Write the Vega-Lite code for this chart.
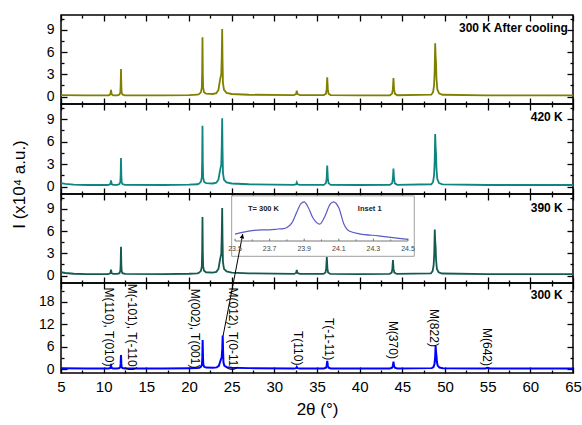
{
  "$schema": "https://vega.github.io/schema/vega-lite/v6.json",
  "background": "white",
  "padding": {"left": 9, "top": 13, "right": 0, "bottom": 0},
  "spacing": 0,
  "bounds": "flush",
  "config": {
    "view": {"stroke": "#000", "strokeWidth": 1.5},
    "axis": {"domain": false, "grid": false, "tickColor": "#000", "tickWidth": 1.3, "labelFont": "Liberation Sans", "labelColor": "#000", "labelFontSize": 14, "titleFont": "Liberation Sans", "titleColor": "#000", "titleFontWeight": "normal"},
    "text": {"font": "Liberation Sans"}
  },
  "vconcat": [
    {
      "width": 512, "height": 89,
      "resolve": {"axis": {"x": "independent", "y": "independent"}},
      "layer": [
        {
          "data": {"values": [
            {"x":5,"y":0.2},{"x":8,"y":0.15},{"x":10.4,"y":0.15},
            {"x":10.6,"y":0.17},{"x":10.78,"y":0.3},{"x":10.86,"y":0.9},{"x":10.94,"y":0.3},{"x":11.1,"y":0.17},
            {"x":11.6,"y":0.17},{"x":11.85,"y":0.28},{"x":11.95,"y":0.55},{"x":11.99,"y":1.5},{"x":12.03,"y":3.7},{"x":12.07,"y":1.5},{"x":12.11,"y":0.55},{"x":12.2,"y":0.28},{"x":12.5,"y":0.17},
            {"x":17,"y":0.15},{"x":20,"y":0.2},{"x":21,"y":0.25},
            {"x":21.2,"y":0.35},{"x":21.4,"y":0.6},{"x":21.5,"y":1.2},{"x":21.54,"y":3.2},{"x":21.58,"y":8.0},{"x":21.62,"y":3.2},{"x":21.66,"y":1.2},{"x":21.76,"y":0.6},{"x":22.0,"y":0.4},
            {"x":22.8,"y":0.35},{"x":23.2,"y":0.45},{"x":23.45,"y":0.9},{"x":23.6,"y":2.0},{"x":23.7,"y":2.6},{"x":23.78,"y":3.0},{"x":23.84,"y":5.5},{"x":23.89,"y":9.1},{"x":23.93,"y":5.0},{"x":23.98,"y":1.8},{"x":24.1,"y":0.9},{"x":24.4,"y":0.5},{"x":25,"y":0.35},{"x":27,"y":0.25},
            {"x":32.3,"y":0.2},{"x":32.55,"y":0.35},{"x":32.63,"y":0.8},{"x":32.71,"y":0.35},{"x":33.0,"y":0.2},
            {"x":35.8,"y":0.2},{"x":36.05,"y":0.4},{"x":36.13,"y":1.0},{"x":36.2,"y":2.6},{"x":36.27,"y":1.0},{"x":36.35,"y":0.4},{"x":36.6,"y":0.2},
            {"x":40,"y":0.15},
            {"x":43.55,"y":0.18},{"x":43.8,"y":0.4},{"x":43.89,"y":1.0},{"x":43.96,"y":2.5},{"x":44.03,"y":1.0},{"x":44.12,"y":0.4},{"x":44.4,"y":0.18},
            {"x":48.4,"y":0.25},{"x":48.6,"y":0.6},{"x":48.72,"y":1.5},{"x":48.79,"y":3.5},{"x":48.85,"y":7.2},{"x":48.9,"y":5.5},{"x":48.95,"y":4.6},{"x":49.0,"y":2.5},{"x":49.1,"y":1.0},{"x":49.3,"y":0.45},{"x":49.7,"y":0.25},
            {"x":55,"y":0.15},{"x":60,"y":0.15},{"x":65,"y":0.15}
          ]},
          "mark": {"type": "line", "color": "#808000", "strokeWidth": 1.8},
          "encoding": {
            "x": {"field": "x", "type": "quantitative", "scale": {"domain": [5, 65], "nice": false, "zero": false},
                  "axis": {"orient": "bottom", "values": [5,7.5,10,12.5,15,17.5,20,22.5,25,27.5,30,32.5,35,37.5,40,42.5,45,47.5,50,52.5,55,57.5,60,62.5,65], "labels": false, "title": null,
                           "tickSize": {"condition": {"test": "datum.value % 5 === 0", "value": -6}, "value": -3}}},
            "y": {"field": "y", "type": "quantitative", "scale": {"domain": [-1, 11], "nice": false, "zero": false},
                  "axis": {"orient": "left", "values": [0,1.5,3,4.5,6,7.5,9,10.5], "labelExpr": "datum.value % 3 === 0 ? datum.label : ''", "title": null, "labelPadding": 13,
                           "tickSize": {"condition": {"test": "datum.value % 3 === 0", "value": -6}, "value": -3}}}
          }
        },
        {
          "data": {"values": [{"x": 64.4, "y": 9.25, "label": "300 K After cooling"}]},
          "mark": {"type": "text", "align": "right", "baseline": "middle", "fontWeight": "bold", "fontSize": 12, "color": "#000"},
          "encoding": {
            "x": {"field": "x", "type": "quantitative", "scale": {"domain": [5, 65], "nice": false, "zero": false},
                  "axis": {"orient": "top", "values": [5,7.5,10,12.5,15,17.5,20,22.5,25,27.5,30,32.5,35,37.5,40,42.5,45,47.5,50,52.5,55,57.5,60,62.5,65], "labels": false, "title": null,
                           "tickSize": {"condition": {"test": "datum.value % 5 === 0", "value": -6}, "value": -3}}},
            "y": {"field": "y", "type": "quantitative", "scale": {"domain": [-1, 11], "nice": false, "zero": false},
                  "axis": {"orient": "right", "values": [0,1.5,3,4.5,6,7.5,9,10.5], "labels": false, "title": null,
                           "tickSize": {"condition": {"test": "datum.value % 3 === 0", "value": -6}, "value": -3}}},
            "text": {"field": "label"}
          }
        }
      ]
    },
    {
      "width": 512, "height": 90,
      "resolve": {"axis": {"x": "independent", "y": "independent"}},
      "layer": [
        {
          "data": {"values": [
            {"x":5,"y":0.45},{"x":5.5,"y":0.35},{"x":6.5,"y":0.25},{"x":8,"y":0.2},{"x":10.4,"y":0.2},
            {"x":10.6,"y":0.22},{"x":10.78,"y":0.32},{"x":10.86,"y":0.8},{"x":10.94,"y":0.32},{"x":11.1,"y":0.22},
            {"x":11.6,"y":0.22},{"x":11.85,"y":0.32},{"x":11.95,"y":0.6},{"x":11.99,"y":1.5},{"x":12.03,"y":3.8},{"x":12.07,"y":1.5},{"x":12.11,"y":0.6},{"x":12.2,"y":0.32},{"x":12.5,"y":0.22},
            {"x":17,"y":0.2},{"x":20,"y":0.25},{"x":21,"y":0.3},
            {"x":21.2,"y":0.4},{"x":21.4,"y":0.65},{"x":21.5,"y":1.2},{"x":21.54,"y":3.2},{"x":21.58,"y":8.1},{"x":21.62,"y":3.2},{"x":21.66,"y":1.2},{"x":21.76,"y":0.65},{"x":22.0,"y":0.45},
            {"x":22.8,"y":0.4},{"x":23.2,"y":0.5},{"x":23.45,"y":0.9},{"x":23.6,"y":1.9},{"x":23.7,"y":2.5},{"x":23.78,"y":2.9},{"x":23.84,"y":5.5},{"x":23.89,"y":9.1},{"x":23.93,"y":5.0},{"x":23.98,"y":1.8},{"x":24.1,"y":0.9},{"x":24.4,"y":0.55},{"x":25,"y":0.4},{"x":27,"y":0.3},
            {"x":32.3,"y":0.22},{"x":32.55,"y":0.3},{"x":32.63,"y":0.55},{"x":32.71,"y":0.3},{"x":33.0,"y":0.22},
            {"x":35.8,"y":0.22},{"x":36.05,"y":0.45},{"x":36.13,"y":1.1},{"x":36.2,"y":2.8},{"x":36.27,"y":1.1},{"x":36.35,"y":0.45},{"x":36.6,"y":0.22},
            {"x":40,"y":0.2},
            {"x":43.55,"y":0.22},{"x":43.8,"y":0.42},{"x":43.89,"y":1.0},{"x":43.96,"y":2.4},{"x":44.03,"y":1.0},{"x":44.12,"y":0.42},{"x":44.4,"y":0.22},
            {"x":48.4,"y":0.3},{"x":48.6,"y":0.6},{"x":48.72,"y":1.5},{"x":48.79,"y":3.4},{"x":48.85,"y":7.0},{"x":48.9,"y":5.3},{"x":48.95,"y":4.4},{"x":49.0,"y":2.4},{"x":49.1,"y":1.0},{"x":49.3,"y":0.45},{"x":49.7,"y":0.28},
            {"x":55,"y":0.2},{"x":60,"y":0.2},{"x":65,"y":0.2}
          ]},
          "mark": {"type": "line", "color": "#0e8580", "strokeWidth": 1.8},
          "encoding": {
            "x": {"field": "x", "type": "quantitative", "scale": {"domain": [5, 65], "nice": false, "zero": false},
                  "axis": {"orient": "bottom", "values": [5,7.5,10,12.5,15,17.5,20,22.5,25,27.5,30,32.5,35,37.5,40,42.5,45,47.5,50,52.5,55,57.5,60,62.5,65], "labels": false, "title": null,
                           "tickSize": {"condition": {"test": "datum.value % 5 === 0", "value": -6}, "value": -3}}},
            "y": {"field": "y", "type": "quantitative", "scale": {"domain": [-1, 11], "nice": false, "zero": false},
                  "axis": {"orient": "left", "values": [0,1.5,3,4.5,6,7.5,9,10.5], "labelExpr": "datum.value % 3 === 0 ? datum.label : ''", "labelPadding": 13,
                           "title": "I (x10⁴ a.u.)", "titleFontSize": 17, "titleX": -33, "titleY": 80, "titleAngle": 270, "titleBaseline": "bottom", "titleAlign": "center",
                           "tickSize": {"condition": {"test": "datum.value % 3 === 0", "value": -6}, "value": -3}}}
          }
        },
        {
          "data": {"values": [{"x": 63.8, "y": 9.27, "label": "420 K"}]},
          "mark": {"type": "text", "align": "right", "baseline": "middle", "fontWeight": "bold", "fontSize": 12, "color": "#000"},
          "encoding": {
            "x": {"field": "x", "type": "quantitative", "scale": {"domain": [5, 65], "nice": false, "zero": false},
                  "axis": {"orient": "top", "values": [5,7.5,10,12.5,15,17.5,20,22.5,25,27.5,30,32.5,35,37.5,40,42.5,45,47.5,50,52.5,55,57.5,60,62.5,65], "labels": false, "title": null,
                           "tickSize": {"condition": {"test": "datum.value % 5 === 0", "value": -6}, "value": -3}}},
            "y": {"field": "y", "type": "quantitative", "scale": {"domain": [-1, 11], "nice": false, "zero": false},
                  "axis": {"orient": "right", "values": [0,1.5,3,4.5,6,7.5,9,10.5], "labels": false, "title": null,
                           "tickSize": {"condition": {"test": "datum.value % 3 === 0", "value": -6}, "value": -3}}},
            "text": {"field": "label"}
          }
        }
      ]
    },
    {
      "width": 512, "height": 89,
      "resolve": {"scale": {"x": "independent", "y": "independent"}, "axis": {"x": "independent", "y": "independent"}},
      "layer": [
        {
          "data": {"values": [
            {"x":5,"y":0.45},{"x":5.5,"y":0.35},{"x":6.5,"y":0.25},{"x":8,"y":0.2},{"x":10.4,"y":0.2},
            {"x":10.6,"y":0.22},{"x":10.78,"y":0.32},{"x":10.86,"y":0.8},{"x":10.94,"y":0.32},{"x":11.1,"y":0.22},
            {"x":11.6,"y":0.22},{"x":11.85,"y":0.32},{"x":11.95,"y":0.6},{"x":11.99,"y":1.5},{"x":12.03,"y":3.9},{"x":12.07,"y":1.5},{"x":12.11,"y":0.6},{"x":12.2,"y":0.32},{"x":12.5,"y":0.22},
            {"x":17,"y":0.2},{"x":20,"y":0.25},{"x":21,"y":0.3},
            {"x":21.2,"y":0.4},{"x":21.4,"y":0.65},{"x":21.5,"y":1.2},{"x":21.54,"y":3.1},{"x":21.58,"y":7.9},{"x":21.62,"y":3.1},{"x":21.66,"y":1.2},{"x":21.76,"y":0.65},{"x":22.0,"y":0.45},
            {"x":22.8,"y":0.4},{"x":23.2,"y":0.5},{"x":23.45,"y":0.9},{"x":23.6,"y":1.9},{"x":23.7,"y":2.5},{"x":23.78,"y":2.9},{"x":23.84,"y":5.5},{"x":23.89,"y":9.1},{"x":23.93,"y":5.0},{"x":23.98,"y":1.8},{"x":24.1,"y":0.9},{"x":24.4,"y":0.55},{"x":25,"y":0.4},{"x":27,"y":0.3},
            {"x":32.3,"y":0.22},{"x":32.55,"y":0.35},{"x":32.63,"y":0.77},{"x":32.71,"y":0.35},{"x":33.0,"y":0.22},
            {"x":35.75,"y":0.22},{"x":36.0,"y":0.42},{"x":36.08,"y":1.0},{"x":36.15,"y":2.5},{"x":36.22,"y":1.0},{"x":36.3,"y":0.42},{"x":36.55,"y":0.22},
            {"x":40,"y":0.2},
            {"x":43.5,"y":0.22},{"x":43.75,"y":0.4},{"x":43.83,"y":0.9},{"x":43.9,"y":2.1},{"x":43.97,"y":0.9},{"x":44.06,"y":0.4},{"x":44.35,"y":0.22},
            {"x":48.35,"y":0.3},{"x":48.55,"y":0.6},{"x":48.67,"y":1.4},{"x":48.74,"y":3.0},{"x":48.8,"y":6.2},{"x":48.85,"y":4.7},{"x":48.9,"y":3.9},{"x":48.95,"y":2.2},{"x":49.05,"y":0.9},{"x":49.25,"y":0.45},{"x":49.65,"y":0.28},
            {"x":55,"y":0.2},{"x":60,"y":0.2},{"x":65,"y":0.2}
          ]},
          "mark": {"type": "line", "color": "#145a50", "strokeWidth": 1.8},
          "encoding": {
            "x": {"field": "x", "type": "quantitative", "scale": {"domain": [5, 65], "nice": false, "zero": false},
                  "axis": {"orient": "bottom", "values": [5,7.5,10,12.5,15,17.5,20,22.5,25,27.5,30,32.5,35,37.5,40,42.5,45,47.5,50,52.5,55,57.5,60,62.5,65], "labels": false, "title": null,
                           "tickSize": {"condition": {"test": "datum.value % 5 === 0", "value": -6}, "value": -3}}},
            "y": {"field": "y", "type": "quantitative", "scale": {"domain": [-1, 11], "nice": false, "zero": false},
                  "axis": {"orient": "left", "values": [0,1.5,3,4.5,6,7.5,9,10.5], "labelExpr": "datum.value % 3 === 0 ? datum.label : ''", "title": null, "labelPadding": 13,
                           "tickSize": {"condition": {"test": "datum.value % 3 === 0", "value": -6}, "value": -3}}}
          }
        },
        {
          "data": {"values": [{"x": 63.8, "y": 9.1, "label": "390 K"}]},
          "mark": {"type": "text", "align": "right", "baseline": "middle", "fontWeight": "bold", "fontSize": 12, "color": "#000"},
          "encoding": {
            "x": {"field": "x", "type": "quantitative", "scale": {"domain": [5, 65], "nice": false, "zero": false},
                  "axis": {"orient": "top", "values": [5,7.5,10,12.5,15,17.5,20,22.5,25,27.5,30,32.5,35,37.5,40,42.5,45,47.5,50,52.5,55,57.5,60,62.5,65], "labels": false, "title": null,
                           "tickSize": {"condition": {"test": "datum.value % 5 === 0", "value": -6}, "value": -3}}},
            "y": {"field": "y", "type": "quantitative", "scale": {"domain": [-1, 11], "nice": false, "zero": false},
                  "axis": {"orient": "right", "values": [0,1.5,3,4.5,6,7.5,9,10.5], "labels": false, "title": null,
                           "tickSize": {"condition": {"test": "datum.value % 3 === 0", "value": -6}, "value": -3}}},
            "text": {"field": "label"}
          }
        },
        {
          "data": {"values": [{"x": 25.0, "x2": 46.4, "y": 2.6, "y2": 10.75}]},
          "mark": {"type": "rect", "fill": "white", "stroke": "#a0a0a0", "strokeWidth": 1},
          "encoding": {
            "x": {"field": "x", "type": "quantitative", "scale": {"domain": [5, 65], "nice": false, "zero": false}, "axis": null},
            "x2": {"field": "x2"},
            "y": {"field": "y", "type": "quantitative", "scale": {"domain": [-1, 11], "nice": false, "zero": false}, "axis": null},
            "y2": {"field": "y2"}
          }
        },
        {
          "data": {"values": [{"x": 23.99, "y": -8.15, "x2": 26.3, "y2": 5.6}]},
          "mark": {"type": "rule", "color": "#000", "strokeWidth": 1},
          "encoding": {
            "x": {"field": "x", "type": "quantitative", "scale": {"domain": [5, 65], "nice": false, "zero": false}, "axis": null},
            "x2": {"field": "x2"},
            "y": {"field": "y", "type": "quantitative", "scale": {"domain": [-1, 11], "nice": false, "zero": false}, "axis": null},
            "y2": {"field": "y2"}
          }
        },
        {
          "data": {"values": [{"x": 26.25, "y": 5.3}]},
          "mark": {"type": "point", "shape": "triangle-up", "filled": true, "color": "#000", "size": 22, "angle": 11, "opacity": 1},
          "encoding": {
            "x": {"field": "x", "type": "quantitative", "scale": {"domain": [5, 65], "nice": false, "zero": false}, "axis": null},
            "y": {"field": "y", "type": "quantitative", "scale": {"domain": [-1, 11], "nice": false, "zero": false}, "axis": null}
          }
        },
        {
          "data": {"values": [{"x": 23.5, "x2": 24.5, "y": 0}]},
          "mark": {"type": "rule", "color": "#777", "strokeWidth": 1},
          "encoding": {
            "x": {"field": "x", "type": "quantitative", "scale": {"domain": [23.5, 24.5], "nice": false, "zero": false, "range": [174, 347]}, "axis": null},
            "x2": {"field": "x2"},
            "y": {"field": "y", "type": "quantitative", "scale": {"domain": [0, 1], "nice": false, "zero": false, "range": [47, 7]}, "axis": null}
          }
        },
        {
          "data": {"values": [
            {"x": 23.5, "y": 0, "y2": 0.06}, {"x": 23.6, "y": 0, "y2": 0.04}, {"x": 23.7, "y": 0, "y2": 0.06}, {"x": 23.8, "y": 0, "y2": 0.04},
            {"x": 23.9, "y": 0, "y2": 0.06}, {"x": 24.0, "y": 0, "y2": 0.04}, {"x": 24.1, "y": 0, "y2": 0.06}, {"x": 24.2, "y": 0, "y2": 0.04},
            {"x": 24.3, "y": 0, "y2": 0.06}, {"x": 24.4, "y": 0, "y2": 0.04}, {"x": 24.5, "y": 0, "y2": 0.06}
          ]},
          "mark": {"type": "rule", "color": "#777", "strokeWidth": 1},
          "encoding": {
            "x": {"field": "x", "type": "quantitative", "scale": {"domain": [23.5, 24.5], "nice": false, "zero": false, "range": [174, 347]}, "axis": null},
            "y": {"field": "y", "type": "quantitative", "scale": {"domain": [0, 1], "nice": false, "zero": false, "range": [47, 7]}, "axis": null},
            "y2": {"field": "y2"}
          }
        },
        {
          "data": {"values": [
            {"x": 23.5, "y": -0.2, "label": "23.5"}, {"x": 23.7, "y": -0.2, "label": "23.7"}, {"x": 23.9, "y": -0.2, "label": "23.9"},
            {"x": 24.1, "y": -0.2, "label": "24.1"}, {"x": 24.3, "y": -0.2, "label": "24.3"}, {"x": 24.5, "y": -0.2, "label": "24.5"}
          ]},
          "mark": {"type": "text", "align": "center", "baseline": "middle", "fontSize": 7, "color": "#444"},
          "encoding": {
            "x": {"field": "x", "type": "quantitative", "scale": {"domain": [23.5, 24.5], "nice": false, "zero": false, "range": [174, 347]}, "axis": null},
            "y": {"field": "y", "type": "quantitative", "scale": {"domain": [0, 1], "nice": false, "zero": false, "range": [47, 7]}, "axis": null},
            "text": {"field": "label"}
          }
        },
        {
          "data": {"values": [
            {"x":23.5,"y":0.17},{"x":23.55,"y":0.22},{"x":23.6,"y":0.26},{"x":23.65,"y":0.28},{"x":23.7,"y":0.28},{"x":23.75,"y":0.3},{"x":23.78,"y":0.31},{"x":23.8,"y":0.34},{"x":23.83,"y":0.46},{"x":23.86,"y":0.75},{"x":23.88,"y":0.93},{"x":23.9,"y":0.98},{"x":23.92,"y":0.87},{"x":23.95,"y":0.58},{"x":23.99,"y":0.42},{"x":24.02,"y":0.62},{"x":24.05,"y":0.92},{"x":24.07,"y":0.98},{"x":24.1,"y":0.83},{"x":24.13,"y":0.42},{"x":24.16,"y":0.25},{"x":24.22,"y":0.18},{"x":24.33,"y":0.13},{"x":24.5,"y":0.04}
          ]},
          "mark": {"type": "line", "color": "#5a5ac8", "strokeWidth": 1.2, "interpolate": "monotone"},
          "encoding": {
            "x": {"field": "x", "type": "quantitative", "scale": {"domain": [23.5, 24.5], "nice": false, "zero": false, "range": [174, 347]}, "axis": null},
            "y": {"field": "y", "type": "quantitative", "scale": {"domain": [0, 1], "nice": false, "zero": false, "range": [47, 7]}, "axis": null}
          }
        },
        {
          "data": {"values": [{"x": 23.575, "y": 0.81, "label": "T= 300 K"}, {"x": 24.21, "y": 0.81, "label": "Inset 1"}]},
          "mark": {"type": "text", "align": "left", "baseline": "middle", "fontWeight": "bold", "fontSize": 7.5, "color": "#222"},
          "encoding": {
            "x": {"field": "x", "type": "quantitative", "scale": {"domain": [23.5, 24.5], "nice": false, "zero": false, "range": [174, 347]}, "axis": null},
            "y": {"field": "y", "type": "quantitative", "scale": {"domain": [0, 1], "nice": false, "zero": false, "range": [47, 7]}, "axis": null},
            "text": {"field": "label"}
          }
        }
      ]
    },
    {
      "width": 512, "height": 90,
      "resolve": {"axis": {"x": "independent", "y": "independent"}},
      "layer": [
        {
          "data": {"values": [
            {"x":5,"y":0.25},{"x":8,"y":0.2},{"x":10.4,"y":0.2},
            {"x":10.6,"y":0.22},{"x":10.78,"y":0.35},{"x":10.86,"y":0.9},{"x":10.94,"y":0.35},{"x":11.1,"y":0.22},
            {"x":11.6,"y":0.22},{"x":11.85,"y":0.32},{"x":11.95,"y":0.6},{"x":11.99,"y":1.5},{"x":12.03,"y":3.8},{"x":12.07,"y":1.5},{"x":12.11,"y":0.6},{"x":12.2,"y":0.32},{"x":12.5,"y":0.22},
            {"x":17,"y":0.2},{"x":20,"y":0.25},{"x":21,"y":0.3},
            {"x":21.2,"y":0.4},{"x":21.4,"y":0.65},{"x":21.52,"y":1.2},{"x":21.56,"y":3.1},{"x":21.6,"y":7.8},{"x":21.64,"y":3.1},{"x":21.68,"y":1.2},{"x":21.78,"y":0.65},{"x":22.0,"y":0.45},
            {"x":22.8,"y":0.4},{"x":23.25,"y":0.5},{"x":23.5,"y":0.9},{"x":23.65,"y":2.0},{"x":23.75,"y":2.7},{"x":23.83,"y":3.1},{"x":23.9,"y":5.5},{"x":23.95,"y":9.0},{"x":23.99,"y":5.0},{"x":24.04,"y":1.8},{"x":24.15,"y":0.9},{"x":24.45,"y":0.55},{"x":25,"y":0.4},{"x":27,"y":0.3},
            {"x":32.3,"y":0.22},{"x":32.55,"y":0.3},{"x":32.63,"y":0.65},{"x":32.71,"y":0.3},{"x":33.0,"y":0.22},
            {"x":35.8,"y":0.22},{"x":36.05,"y":0.42},{"x":36.13,"y":1.0},{"x":36.2,"y":2.2},{"x":36.27,"y":1.0},{"x":36.35,"y":0.42},{"x":36.6,"y":0.22},
            {"x":40,"y":0.2},
            {"x":43.55,"y":0.22},{"x":43.8,"y":0.4},{"x":43.89,"y":0.9},{"x":43.96,"y":2.0},{"x":44.03,"y":0.9},{"x":44.12,"y":0.4},{"x":44.4,"y":0.22},
            {"x":48.45,"y":0.3},{"x":48.65,"y":0.6},{"x":48.77,"y":1.4},{"x":48.84,"y":3.0},{"x":48.9,"y":6.2},{"x":48.95,"y":4.6},{"x":49.0,"y":3.6},{"x":49.05,"y":2.0},{"x":49.15,"y":0.9},{"x":49.35,"y":0.45},{"x":49.75,"y":0.28},
            {"x":54.7,"y":0.2},{"x":55.0,"y":0.4},{"x":55.3,"y":0.2},
            {"x":60,"y":0.2},{"x":65,"y":0.2}
          ]},
          "mark": {"type": "line", "color": "#0000ff", "strokeWidth": 2},
          "encoding": {
            "x": {"field": "x", "type": "quantitative", "scale": {"domain": [5, 65], "nice": false, "zero": false},
                  "axis": {"orient": "bottom", "values": [5,7.5,10,12.5,15,17.5,20,22.5,25,27.5,30,32.5,35,37.5,40,42.5,45,47.5,50,52.5,55,57.5,60,62.5,65],
                           "labelExpr": "datum.value % 5 === 0 ? datum.label : ''", "labelFontSize": 15, "labelPadding": 12, "labelFlush": false,
                           "title": "2θ (°)", "titleFontSize": 17, "titlePadding": 7,
                           "tickSize": {"condition": {"test": "datum.value % 5 === 0", "value": -6}, "value": -3}}},
            "y": {"field": "y", "type": "quantitative", "scale": {"domain": [-1, 23], "nice": false, "zero": false},
                  "axis": {"orient": "left", "values": [0,3,6,9,12,15,18,21], "labelExpr": "datum.value % 6 === 0 ? datum.label : ''", "title": null, "labelPadding": 13,
                           "tickSize": {"condition": {"test": "datum.value % 6 === 0", "value": -6}, "value": -3}}}
          }
        },
        {
          "data": {"values": [{"x": 63.8, "y": 19.8, "label": "300 K"}]},
          "mark": {"type": "text", "align": "right", "baseline": "middle", "fontWeight": "bold", "fontSize": 12, "color": "#000"},
          "encoding": {
            "x": {"field": "x", "type": "quantitative", "scale": {"domain": [5, 65], "nice": false, "zero": false},
                  "axis": {"orient": "top", "values": [5,7.5,10,12.5,15,17.5,20,22.5,25,27.5,30,32.5,35,37.5,40,42.5,45,47.5,50,52.5,55,57.5,60,62.5,65], "labels": false, "title": null,
                           "tickSize": {"condition": {"test": "datum.value % 5 === 0", "value": -6}, "value": -3}}},
            "y": {"field": "y", "type": "quantitative", "scale": {"domain": [-1, 23], "nice": false, "zero": false},
                  "axis": {"orient": "right", "values": [0,3,6,9,12,15,18,21], "labels": false, "title": null,
                           "tickSize": {"condition": {"test": "datum.value % 6 === 0", "value": -6}, "value": -3}}},
            "text": {"field": "label"}
          }
        },
        {
          "data": {"values": [
            {"x": 10.66, "y": 21.8, "label": "M(110), T(010)"},
            {"x": 13.3, "y": 22.8, "label": "M(-101), T(-110)"},
            {"x": 20.7, "y": 21.5, "label": "M(002), T(001)"},
            {"x": 25.2, "y": 21.8, "label": "M(012), T(0-11)"},
            {"x": 32.8, "y": 10.2, "label": "T(110)"},
            {"x": 36.35, "y": 13.7, "label": "T(-1-11)"},
            {"x": 43.96, "y": 12.9, "label": "M(370)"},
            {"x": 48.66, "y": 16.1, "label": "M(822)"},
            {"x": 54.9, "y": 11.0, "label": "M(642)"}
          ]},
          "mark": {"type": "text", "align": "left", "baseline": "middle", "angle": 90, "fontSize": 12, "color": "#000"},
          "encoding": {
            "x": {"field": "x", "type": "quantitative", "scale": {"domain": [5, 65], "nice": false, "zero": false}, "axis": null},
            "y": {"field": "y", "type": "quantitative", "scale": {"domain": [-1, 23], "nice": false, "zero": false}, "axis": null},
            "text": {"field": "label"}
          }
        }
      ]
    }
  ]
}
